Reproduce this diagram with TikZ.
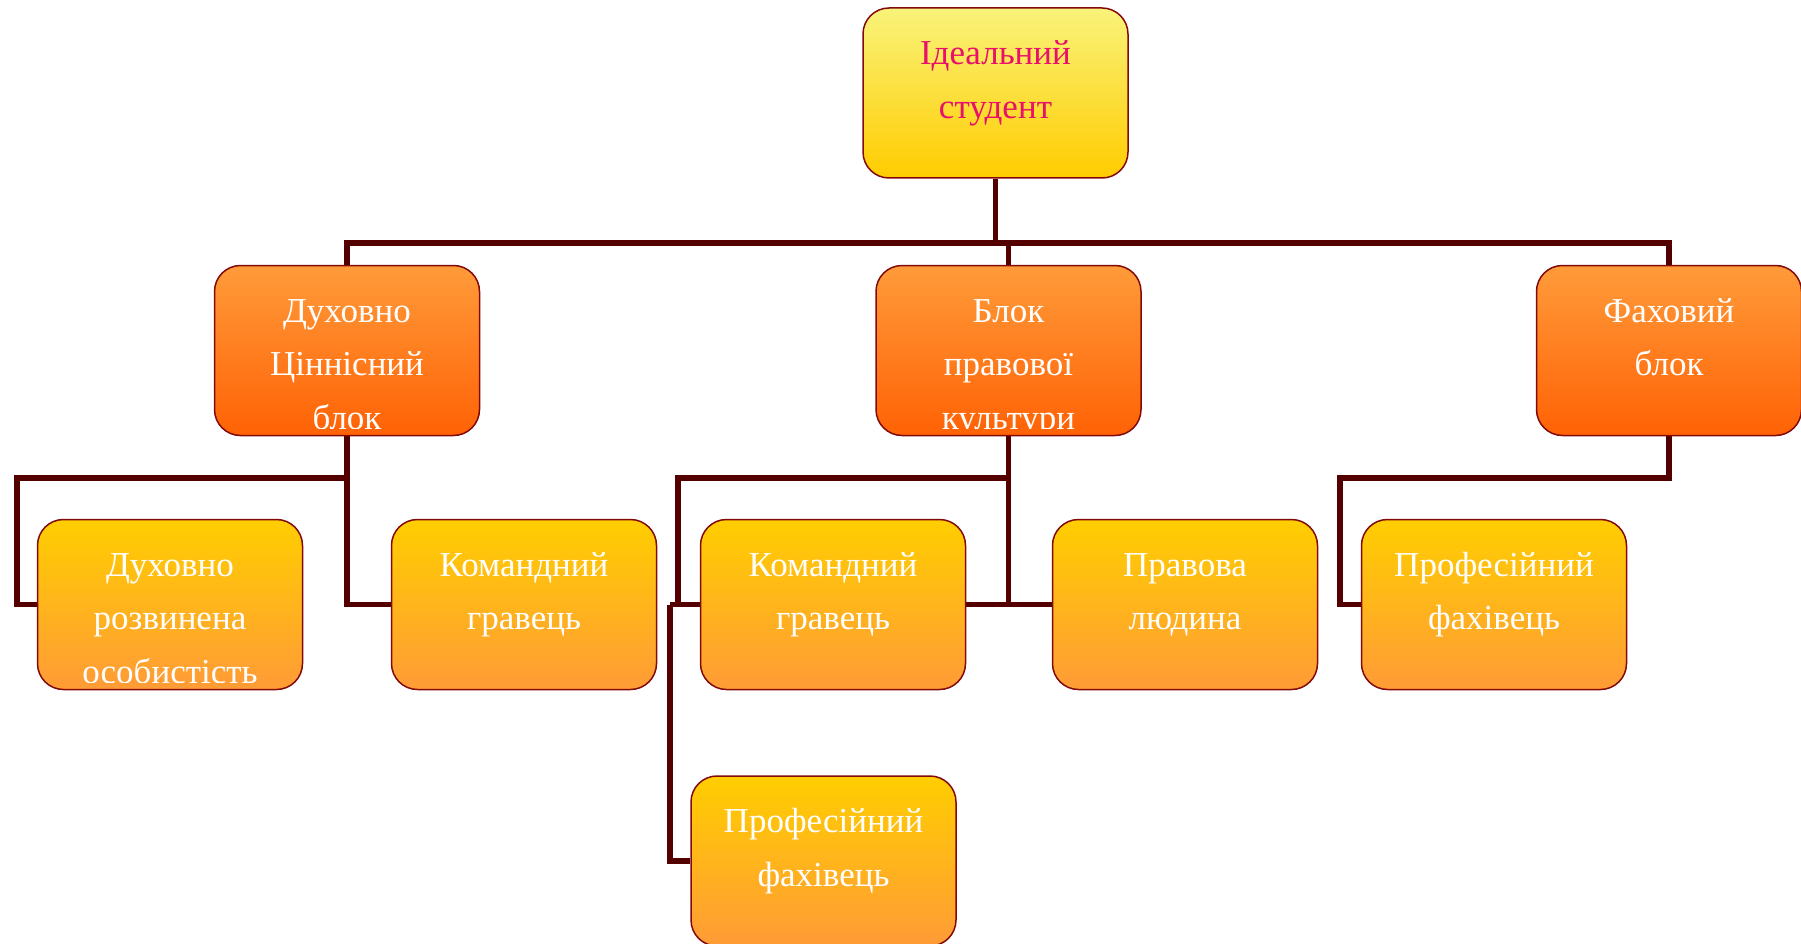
\documentclass[tikz,border=0pt]{standalone}
\usepackage{fontspec}
\setmainfont{Liberation Serif}
\usetikzlibrary{calc,backgrounds}
\definecolor{connc}{RGB}{85,0,0}
\definecolor{bord}{RGB}{130,10,10}
\definecolor{yTop}{RGB}{249,243,122}
\definecolor{yBot}{RGB}{255,204,0}
\definecolor{oTop}{RGB}{255,155,58}
\definecolor{oBot}{RGB}{255,98,5}
\definecolor{gTop}{RGB}{255,206,0}
\definecolor{gBot}{RGB}{255,155,55}
\definecolor{pinktxt}{RGB}{232,16,106}
\newcommand{\mybtext}[3]{%
  \begin{scope}
    \clip (#1.north west) rectangle ($(#1.south east)+(0pt,8pt)$);
    \node[txt,#3] (#1t) at ($(#1.north)+(0,20)$) {#2};
  \end{scope}}
\begin{document}
\begin{tikzpicture}[x=1pt,y=-1pt,
  box/.style={draw=bord, line width=1.5pt, rounded corners=26pt,
    minimum width=265pt, minimum height=170pt, inner sep=0pt},
  topbox/.style={box, top color=yTop, bottom color=yBot},
  lonebox/.style={box, top color=oTop, bottom color=oBot},
  ltwobox/.style={box, top color=gTop, bottom color=gBot},
  txt/.style={font=\fontsize{35}{53.5}\selectfont, align=center,
    inner sep=0pt, anchor=north, text=white},
  conn/.style={draw=connc, line width=5.5pt, line join=miter}]
\useasboundingbox (0,0) rectangle (1801,944);

% boxes
\node[topbox] (top) at (995.5,93) {};
\node[lonebox] (L) at (347,350.5) {};
\node[lonebox] (M) at (1008.5,350.5) {};
\node[lonebox] (R) at (1669,350.5) {};
\node[ltwobox] (A) at (170,604.5) {};
\node[ltwobox] (B) at (524,604.5) {};
\node[ltwobox] (C) at (833,604.5) {};
\node[ltwobox] (D) at (1185,604.5) {};
\node[ltwobox] (E) at (1494,604.5) {};
\node[ltwobox] (F) at (823.5,861) {};

% texts
\mybtext{top}{\strut Ідеальний\\\strut студент}{text=pinktxt}
\mybtext{L}{\strut Духовно\\\strut Ціннісний\\\strut блок}{}
\mybtext{M}{\strut Блок\\\strut правової\\\strut культури}{}
\mybtext{R}{\strut Фаховий\\\strut блок}{}
\mybtext{A}{\strut Духовно\\\strut розвинена\\\strut особистість}{}
\mybtext{B}{\strut Командний\\\strut гравець}{}
\mybtext{C}{\strut Командний\\\strut гравець}{}
\mybtext{D}{\strut Правова\\\strut людина}{}
\mybtext{E}{\strut Професійний\\\strut фахівець}{}
\mybtext{F}{\strut Професійний\\\strut фахівець}{}

\begin{scope}[on background layer]
  \fill[white] (0,0) rectangle (1801,944);
  % top level
  \coordinate (j0) at (995.5,243);
  \draw[conn] (top.south) -- (j0);
  \draw[conn] (j0) -| (L.north);
  \draw[conn] (j0) -| (M.north);
  \draw[conn] (j0) -| (R.north);
  % left branch
  \coordinate (jl) at (347,478);
  \coordinate (jla) at (17,478);
  \draw[conn] (L.south) -- (jl) -- (jla) |- (A.west);
  \draw[conn] (jl) |- (B.west);
  % middle branch
  \coordinate (jm) at (1008.5,478);
  \coordinate (jmc) at (678,478);
  \coordinate (jmf) at (670,604.5);
  \draw[conn] (M.south) |- (D.west);
  \draw[conn] (C.east) -- (C.east -| M.south);
  \draw[conn] (jm) -- (jmc) |- (C.west);
  \draw[conn] (jmf) -- (C.west);
  \draw[conn] (jmf) |- (F.west);
  % right branch
  \coordinate (jr) at (1669,478);
  \coordinate (jre) at (1340,478);
  \draw[conn] (R.south) -- (jr) -- (jre) |- (E.west);
\end{scope}
\end{tikzpicture}
\end{document}
